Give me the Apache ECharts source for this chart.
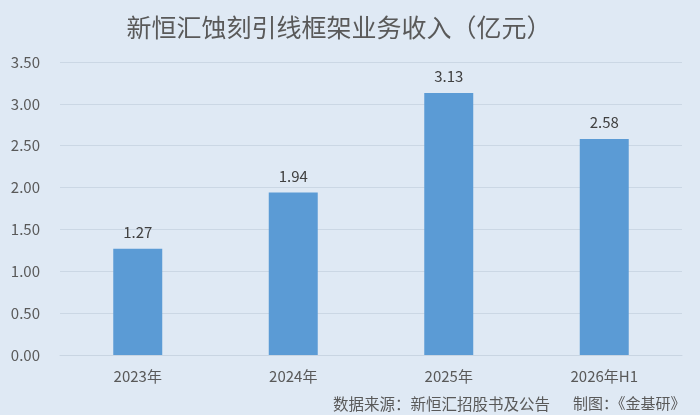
<!DOCTYPE html>
<html><head><meta charset="utf-8">
<script src="https://cdn.jsdelivr.net/npm/echarts@6/dist/echarts.min.js"></script>
<style>html,body{margin:0;padding:0;background:#dfe9f4;}#c{width:700px;height:415px;}</style>
</head><body><div id="c"></div>
<script>
const categories = ['2023年', '2024年', '2025年', '2026年H1'];
const revenue = [1.27, 1.94, 3.13, 2.58];
const titleText = '新恒汇蚀刻引线框架业务收入（亿元）';
const sourceText = '数据来源：新恒汇招股书及公告';
const creditText = '制图：《金基研》';

const font = '"Noto Sans CJK SC", "Noto Sans", sans-serif';
const chart = echarts.init(document.getElementById('c'));
chart.setOption({
  backgroundColor: '#dfe9f4',
  animation: false,
  title: {
    text: titleText, left: 334, top: 10, textAlign: 'center',
    textStyle: { fontFamily: font, fontSize: 25, fontWeight: 'normal', color: '#595959' }
  },
  graphic: [{
    type: 'text', left: 333, top: 396,
    style: { text: sourceText, font: '15.5px ' + font, fill: '#595959' }
  }, {
    type: 'text', left: 573, top: 396,
    style: { text: creditText, font: '15px ' + font, fill: '#595959' }
  }],
  grid: { left: 60, right: 18, top: 62, bottom: 60, containLabel: false },
  xAxis: {
    type: 'category', data: categories,
    axisLine: { show: true, lineStyle: { color: '#c9d5e2' } },
    axisTick: { show: false },
    axisLabel: { fontFamily: font, fontSize: 15, color: '#595959', margin: 14 }
  },
  yAxis: {
    type: 'value', min: 0, max: 3.5, interval: 0.5,
    axisLine: { show: false }, axisTick: { show: false },
    splitLine: { lineStyle: { color: '#cbd7e4', width: 1 } },
    axisLabel: { fontFamily: font, fontSize: 15, color: '#595959', margin: 20,
      formatter: v => v.toFixed(2) }
  },
  series: [{
    type: 'bar', data: revenue, barWidth: '31.5%',
    itemStyle: { color: '#5b9bd5' },
    label: { show: true, position: 'top', distance: 9, fontFamily: font, fontSize: 15,
      color: '#404040', formatter: p => p.value.toFixed(2) }
  }]
});
</script></body></html>
